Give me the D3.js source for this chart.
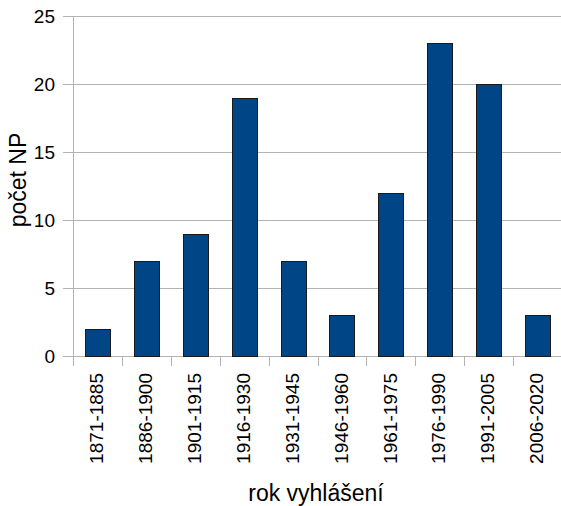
<!DOCTYPE html>
<html><head><meta charset="utf-8">
<script src="https://cdn.jsdelivr.net/npm/d3@7"></script>
<style>body{margin:0;background:#fff}svg{display:block}text{font-family:"Liberation Sans",Arial,sans-serif;fill:#000}</style>
</head><body>
<script>
const categories = ["1871-1885","1886-1900","1901-1915","1916-1930","1931-1945","1946-1960","1961-1975","1976-1990","1991-2005","2006-2020"];
const values = [2,7,9,19,7,3,12,23,20,3];
const yTicks = [0,5,10,15,20,25];
const xTitle = "rok vyhlášení";
const yTitle = "počet NP";

(function(){
const W = 561, H = 506;
const mLeft = 73, mRight = 562, mTop = 16, mBottom = 356;
const svg = d3.select("body").append("svg").attr("width", W).attr("height", H);

const x = d3.scaleBand().domain(categories).range([mLeft, mRight]).paddingInner(0.49).paddingOuter(0.245);
const xb = d3.scaleBand().domain(categories).range([mLeft, mRight]);
const y = d3.scaleLinear().domain([0, 25]).range([mBottom, mTop]);

const grid = "#b3b3b3";
svg.append("g").selectAll("line").data(yTicks).join("line")
  .attr("x1", mLeft - 10).attr("x2", 561)
  .attr("y1", d => Math.round(y(d)) + 0.5).attr("y2", d => Math.round(y(d)) + 0.5)
  .attr("stroke", grid).attr("stroke-width", 1);
svg.append("line").attr("x1", mLeft + 0.5).attr("x2", mLeft + 0.5).attr("y1", mTop).attr("y2", mBottom + 10)
  .attr("stroke", grid);
const bounds = categories.map(c => xb(c)).concat([mRight]).slice(1);
svg.append("g").selectAll("line").data(bounds).join("line")
  .attr("x1", d => Math.round(d) + 0.5).attr("x2", d => Math.round(d) + 0.5)
  .attr("y1", mBottom).attr("y2", mBottom + 10).attr("stroke", grid);

svg.append("g").selectAll("rect").data(values).join("rect")
  .attr("x", (d, i) => Math.round(x(categories[i])) + 0.5)
  .attr("width", Math.round(x.bandwidth()))
  .attr("y", d => Math.round(y(d)) + 0.5)
  .attr("height", d => Math.round(y(0)) - Math.round(y(d)))
  .attr("fill", "#004586").attr("stroke", "#1a1a1a").attr("stroke-width", 1);

svg.append("g").selectAll("text").data(yTicks).join("text")
  .attr("x", 55).attr("y", d => y(d)).attr("dy", "0.35em")
  .attr("text-anchor", "end").style("font-size", "19px").text(d => d);

svg.append("g").selectAll("text").data(categories).join("text")
  .attr("transform", c => `translate(${xb(c) + xb.bandwidth()/2 - 1},373) rotate(-90)`)
  .attr("dy", "0.35em").attr("text-anchor", "end").style("font-size", "19px").text(c => c);

svg.append("text").attr("x", 316).attr("y", 501).attr("text-anchor", "middle")
  .style("font-size", "23px").text(xTitle);
svg.append("text").attr("transform", "translate(26,180) rotate(-90)").attr("text-anchor", "middle")
  .style("font-size", "23px").text(yTitle);
})();
</script>
</body></html>
